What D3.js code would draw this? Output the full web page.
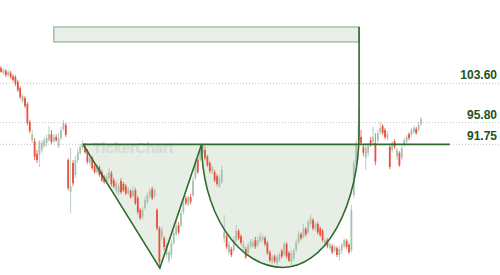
<!DOCTYPE html>
<html>
<head>
<meta charset="utf-8">
<script src="https://cdn.jsdelivr.net/npm/d3@7"></script>
<style>
  body { margin: 0; background: #fff; }
  svg { display: block; font-family: "Liberation Sans", Arial, sans-serif; }
</style>
</head>
<body>
<svg id="chart"></svg>
<script>
// candle values (one entry per session)
const openP = [
  106.8,105.8,106.2,105.3,105.8,105.1,104.9,103.9,102.6,100.0,
  100.6,99.4,95.9,92.5,92.3,90.0,89.8,90.7,91.4,92.0,
  92.5,93.6,92.3,93.1,91.4,92.9,94.6,95.3,88.9,83.4,
  88.4,86.3,88.9,90.2,91.1,91.4,90.5,88.4,89.3,87.9,
  86.8,87.7,86.8,86.0,85.1,85.8,86.6,85.4,83.7,83.4,
  85.3,84.8,84.4,83.2,83.6,82.8,83.7,82.4,80.5,79.4,
  80.8,81.8,82.8,83.9,82.8,80.5,77.6,76.3,76.1,73.6,
  72.8,73.6,75.4,76.7,78.1,78.1,80.2,82.4,81.4,82.6,
  82.9,85.8,88.9,88.9,90.3,90.7,89.5,88.4,86.8,86.8,
  86.1,84.4,85.1,76.1,76.4,74.0,74.5,74.3,75.8,77.2,
  76.4,74.6,74.5,73.9,74.8,74.9,75.8,75.1,75.7,75.8,
  76.1,75.4,74.0,72.6,73.4,72.4,72.8,74.2,73.7,75.2,
  73.9,72.6,73.1,74.3,75.5,76.7,76.3,77.5,77.0,78.3,
  78.9,77.5,78.3,77.6,77.2,75.2,75.8,74.6,74.9,74.2,
  74.6,73.6,74.3,74.9,75.7,75.1,74.3,82.9,88.4,92.5,
  93.1,91.3,89.3,90.2,92.5,92.2,92.0,92.5,94.0,95.2,
  94.4,92.9,91.3,90.7,92.3,89.5,90.2,89.3,91.6,92.2,
  93.6,93.5,94.0,94.6,94.4,95.5
];
const closeP = [
  106.0,106.4,105.3,106.0,104.9,104.3,103.5,102.2,100.8,101.0,
  99.0,95.7,94.2,93.6,89.5,88.9,92.2,92.0,92.5,92.9,
  93.6,92.2,93.1,92.5,92.9,94.4,95.7,93.5,84.1,84.4,
  84.9,88.9,90.3,91.3,92.0,90.3,88.6,89.3,87.5,86.8,
  87.7,86.3,85.4,85.1,86.1,86.8,84.8,84.4,84.9,84.4,
  83.4,83.7,83.2,83.9,82.6,83.7,81.6,80.2,79.2,80.5,
  82.1,82.9,83.6,82.4,83.7,77.6,72.6,77.3,74.8,75.1,
  74.0,75.4,76.9,77.9,77.0,80.0,81.6,81.6,82.6,81.8,
  85.4,88.6,86.8,90.7,91.6,89.3,88.0,87.0,87.7,85.4,
  84.8,85.8,87.2,77.0,74.8,75.2,73.6,75.8,77.2,76.1,
  75.4,75.2,73.3,75.1,75.7,75.5,74.8,75.8,76.4,76.3,
  75.2,73.9,72.8,73.3,72.7,73.3,73.7,73.4,75.2,73.4,
  72.8,73.9,74.3,75.5,76.7,76.1,77.6,76.7,78.6,79.2,
  77.6,78.3,77.0,76.6,75.8,75.8,74.9,75.2,74.0,74.8,
  73.6,74.5,75.1,75.8,74.8,74.0,80.5,88.4,91.6,95.3,
  92.0,90.2,91.1,91.6,91.6,93.1,88.6,93.8,94.8,93.8,
  93.1,93.6,87.7,92.0,91.3,90.7,88.0,91.1,92.5,93.1,
  92.9,94.4,94.8,93.8,95.3,96.5
];
const highP = [
  107.2,106.8,106.6,106.4,106.2,105.5,105.3,104.3,103.0,101.4,
  101.0,99.8,96.3,94.4,92.9,90.7,92.5,92.5,93.1,93.6,
  95.2,94.4,93.6,93.6,93.8,95.0,96.3,95.7,89.3,91.1,
  88.9,89.6,91.1,91.8,92.5,92.0,90.9,89.6,89.6,88.2,
  88.2,88.0,87.2,86.3,86.6,87.5,87.0,85.8,85.4,84.9,
  85.8,85.1,84.8,84.3,83.9,84.4,84.1,82.8,80.8,81.0,
  82.6,83.4,84.1,84.3,84.1,80.8,77.9,77.9,76.4,75.4,
  74.3,75.8,77.3,78.6,78.6,80.5,82.1,82.8,82.9,83.1,
  86.0,89.1,89.5,91.3,92.0,91.4,89.8,88.7,88.0,87.2,
  86.5,86.3,87.9,79.7,76.7,75.7,74.8,76.4,78.1,77.5,
  76.7,75.7,74.8,75.4,76.0,76.0,76.3,76.4,77.0,76.7,
  76.4,75.7,74.3,73.6,73.7,73.6,74.0,74.5,75.5,75.5,
  74.2,74.3,74.6,76.0,77.2,77.0,78.3,77.8,79.0,79.8,
  79.2,78.6,78.6,77.9,77.5,76.1,76.1,75.5,75.2,75.1,
  74.9,74.9,75.4,76.1,76.0,75.4,81.3,88.9,92.5,98.6,
  94.4,91.8,91.6,92.0,93.1,95.0,93.8,94.4,95.9,95.5,
  94.8,94.2,91.6,92.3,92.7,91.1,90.5,91.4,92.9,93.5,
  94.0,94.8,95.2,95.0,95.9,96.9
];
const lowP = [
  105.8,105.3,104.9,104.9,104.5,103.9,103.0,101.8,100.4,99.6,
  98.6,95.3,93.8,92.0,88.9,88.4,87.7,90.2,91.1,91.4,
  92.2,91.8,92.0,92.2,91.1,92.5,94.2,93.1,83.7,80.0,
  84.4,85.8,88.4,89.8,90.7,90.0,88.2,87.9,87.2,86.5,
  86.5,86.0,85.1,84.8,84.8,85.4,84.4,84.1,83.2,82.9,
  83.1,83.4,82.9,82.9,82.3,82.4,81.3,79.8,78.9,79.0,
  80.5,81.4,82.4,82.1,82.4,77.3,71.7,75.8,74.3,73.1,
  72.4,73.1,75.1,76.4,76.7,77.8,79.8,81.3,81.1,81.4,
  82.6,85.4,86.5,88.6,90.0,88.9,87.7,86.6,86.5,85.1,
  84.4,84.1,84.8,75.5,74.5,73.6,73.3,74.0,75.5,75.8,
  75.1,74.2,73.0,73.6,74.5,74.6,74.5,74.8,75.4,75.5,
  74.9,73.6,72.6,72.3,72.4,72.0,72.6,73.1,73.4,73.1,
  72.6,72.1,72.7,74.0,75.2,75.8,76.0,76.4,76.7,77.9,
  77.3,77.2,76.7,76.3,75.5,74.9,74.6,74.3,73.7,73.9,
  73.3,72.8,73.7,74.6,74.5,73.7,74.0,82.4,88.0,92.0,
  91.6,89.6,87.2,89.6,91.3,91.6,88.0,92.0,93.5,93.5,
  92.7,92.5,87.3,90.2,90.9,88.9,87.7,88.9,91.3,91.8,
  92.5,93.1,93.6,93.5,94.0,95.2
];

// price levels shown at the right
const levels = [103.60, 95.80, 91.75];
const levelLabels = ["103.60", "95.80", "91.75"];

// pattern drawing, in [candle index, price]
const neckline = 91.75;
const neckStart = 34.2, neckEnd = 187;
const triangle = [[34.2, 91.75], [66.2, 71.7], [83.6, 91.75]];
const cupLeft = [83.6, 91.75], cupBottom = [117.5, 71.8], cupRight = [149.2, 94.0], cupTop = [149.2, 115.9];
const targetBox = [[22, 115.9], [149.2, 112.5]];

const width = 500, height = 275;
const svg = d3.select("#chart").attr("width", width).attr("height", height);

const x = d3.scaleLinear().domain([0, 175]).range([1, 421]);
const y = d3.scaleLog().domain([103.6, 91.75]).range([83.3, 144.3]);

const green = "#2f6a2f", fillGreen = "#e6eee6";

// dotted price level lines
svg.selectAll(".lvl").data(levels).enter().append("line")
  .attr("x1", 0).attr("x2", width)
  .attr("y1", d => y(d)).attr("y2", d => y(d))
  .attr("stroke", "#c4c4c4").attr("stroke-width", 1)
  .attr("stroke-dasharray", "1,2");

// target box
svg.append("rect")
  .attr("x", x(targetBox[0][0])).attr("y", y(targetBox[0][1]))
  .attr("width", x(targetBox[1][0]) - x(targetBox[0][0]))
  .attr("height", y(targetBox[1][1]) - y(targetBox[0][1]))
  .attr("fill", "#e8efe9").attr("stroke", "#98b89d").attr("stroke-width", 1.3);

// triangle fill
const line = d3.line().x(d => x(d[0])).y(d => y(d[1]));
svg.append("path").attr("d", line(triangle) + "Z").attr("fill", fillGreen);

// cup (two quarter ellipses)
const L = [x(cupLeft[0]), y(cupLeft[1])], B = [x(cupBottom[0]), y(cupBottom[1])];
const R = [x(cupRight[0]), y(cupRight[1])], T = [x(cupTop[0]), y(cupTop[1])];
const cupArc = `M${L[0]},${L[1]} A${B[0] - L[0]},${B[1] - L[1]} 0 0 0 ${B[0]},${B[1]}` +
  ` A${R[0] - B[0]},${B[1] - R[1]} 0 0 0 ${R[0]},${R[1]}`;
svg.append("path").attr("d", cupArc + ` L${R[0]},${y(neckline)} Z`).attr("fill", fillGreen);

// watermark
svg.append("text").attr("x", 93).attr("y", 153)
  .attr("font-size", 14.5).attr("font-weight", "bold")
  .attr("fill", "#d4dcd4").text("TickerChart");

// candles
const candles = d3.range(openP.length).map(i => ({
  i: i, o: openP[i], h: highP[i], l: lowP[i], c: closeP[i]
}));
const col = d => d.c < d.o ? "#e6533c" : "#a9c1b1";

const g = svg.append("g");
g.selectAll(".wick").data(candles).enter().append("line")
  .attr("x1", d => x(d.i)).attr("x2", d => x(d.i))
  .attr("y1", d => y(d.h)).attr("y2", d => y(d.l))
  .attr("stroke", col).attr("stroke-width", 0.8);
g.selectAll(".body").data(candles).enter().append("rect")
  .attr("x", d => x(d.i) - 0.9).attr("width", 1.8)
  .attr("y", d => y(Math.max(d.o, d.c)))
  .attr("height", d => Math.max(1, Math.abs(y(d.o) - y(d.c))))
  .attr("fill", col);

// pattern lines
svg.append("path").attr("d", line(triangle))
  .attr("fill", "none").attr("stroke", green).attr("stroke-width", 1.6);
svg.append("path").attr("d", cupArc + ` L${T[0]},${T[1]}`)
  .attr("fill", "none").attr("stroke", green).attr("stroke-width", 1.6);
svg.append("line")
  .attr("x1", x(neckStart)).attr("x2", x(neckEnd))
  .attr("y1", y(neckline)).attr("y2", y(neckline))
  .attr("stroke", green).attr("stroke-width", 1.8);

// level labels
svg.selectAll(".lab").data(levels).enter().append("text")
  .attr("x", 497).attr("y", d => y(d) - 4)
  .attr("text-anchor", "end")
  .attr("font-size", 12).attr("font-weight", "bold")
  .attr("fill", "#225222")
  .text((d, k) => levelLabels[k]);
</script>
</body>
</html>
